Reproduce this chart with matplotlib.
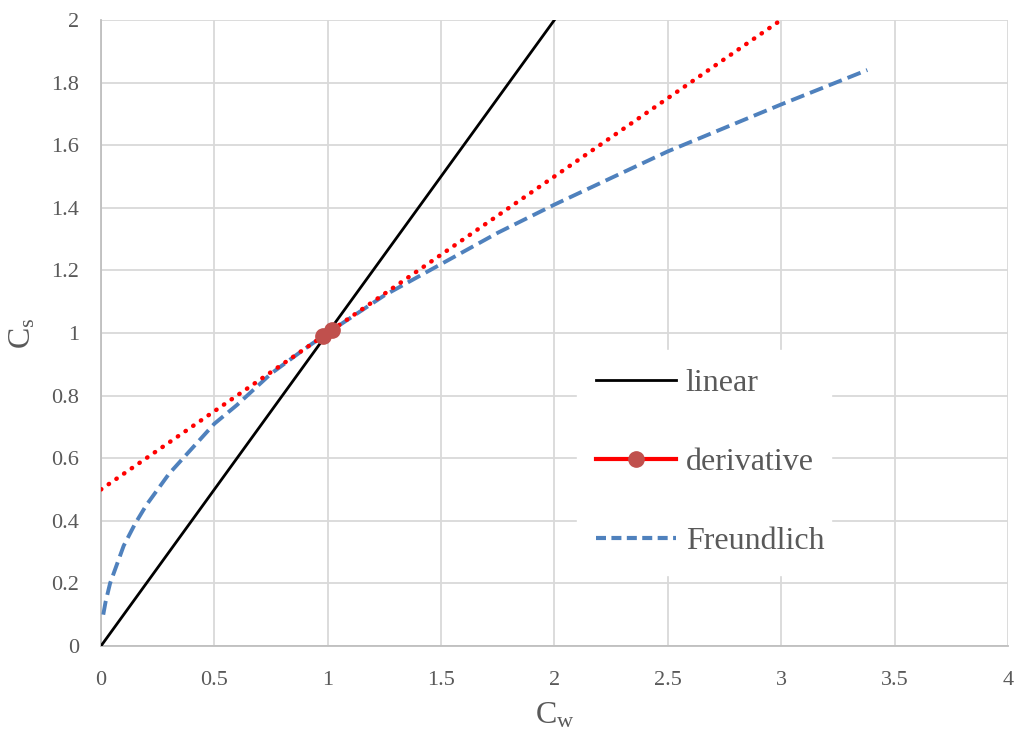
import matplotlib
matplotlib.use("Agg")
import matplotlib.pyplot as plt
from matplotlib.lines import Line2D

plt.rcParams['font.family'] = ['Liberation Serif', 'DejaVu Serif']
plt.rcParams['mathtext.fontset'] = 'custom'
plt.rcParams['mathtext.rm'] = 'Liberation Serif'

# linear isotherm
lin_x = [0, 2]
lin_y = [0, 2]

# tangent ("derivative") line, markers only at the two middle points
der_x = [0, 0.98, 1.02, 3]
der_y = [0.5, 0.99, 1.01, 2]

# Freundlich curve
fr_x = [0.01, 0.02, 0.04, 0.07, 0.1, 0.15, 0.2, 0.3, 0.4, 0.5, 0.6, 0.75,
        0.9, 1.0, 1.25, 1.5, 1.75, 2.0, 2.5, 3.0, 3.38]
fr_y = [0.10, 0.14, 0.20, 0.26, 0.32, 0.39, 0.45, 0.55, 0.63, 0.71, 0.77, 0.87,
        0.95, 1.00, 1.12, 1.22, 1.32, 1.41, 1.58, 1.73, 1.84]

xticks = [0, 0.5, 1, 1.5, 2, 2.5, 3, 3.5, 4]
yticks = [0, 0.2, 0.4, 0.6, 0.8, 1, 1.2, 1.4, 1.6, 1.8, 2]

txt = '#595959'
fig = plt.figure(figsize=(10.15, 7.38), dpi=100)
ax = fig.add_axes([0.0995, 0.1247, 0.8935, 0.8483])

ax.plot(lin_x, lin_y, color='black', lw=2, zorder=3)
ax.plot(fr_x, fr_y, color='#4F81BD', lw=2.8, dashes=(3.6, 1.6), zorder=3)
ax.plot(der_x, der_y, color='red', lw=3.2, linestyle=(0, (0.1, 2.0)),
        dash_capstyle='round', zorder=4)
ax.plot(der_x, der_y, linestyle='none', marker='o', markevery=[1, 2],
        ms=11, color='#C0504D', zorder=5)

ax.set_xlim(0, 4)
ax.set_ylim(0, 2)
ax.set_xticks(xticks)
ax.set_xticklabels([f'{t:g}' for t in xticks])
ax.set_yticks(yticks)
ax.set_yticklabels([f'{t:g}' for t in yticks])
ax.grid(True, color='#d9d9d9', lw=1.3)
ax.set_axisbelow(True)
for s in ['top', 'right']:
    ax.spines[s].set_visible(False)
for s in ['left', 'bottom']:
    ax.spines[s].set_color('#bfbfbf')
    ax.spines[s].set_linewidth(1.3)
ax.tick_params(axis='x', length=0, labelsize=16, colors=txt, pad=18)
ax.tick_params(axis='y', length=0, labelsize=16, colors=txt, pad=16)
ax.set_xlabel(r'$\mathregular{C_w}$', fontsize=23, color=txt, labelpad=8)
ax.set_ylabel(r'$\mathregular{C_s}$', fontsize=23, color=txt, labelpad=10)

handles = [
    Line2D([], [], color='black', lw=2),
    Line2D([], [], color='red', lw=3, marker='o', ms=11,
           markerfacecolor='#C0504D', markeredgecolor='#C0504D'),
    Line2D([], [], color='#4F81BD', lw=3, dashes=(2.4, 1.3)),
]
leg = ax.legend(handles, ['linear', 'derivative', 'Freundlich'],
                loc='lower left', bbox_to_anchor=(0.525, 0.113, 0.28, 0.355),
                mode='expand', frameon=True, fancybox=False, fontsize=23,
                labelcolor=txt, handlelength=2.5, handletextpad=0.3,
                labelspacing=1.55, borderpad=0.6, borderaxespad=0)
leg.get_frame().set_edgecolor('white')
leg.get_frame().set_facecolor('white')
leg.get_frame().set_alpha(1)

fig.savefig('out.png', dpi=100)
